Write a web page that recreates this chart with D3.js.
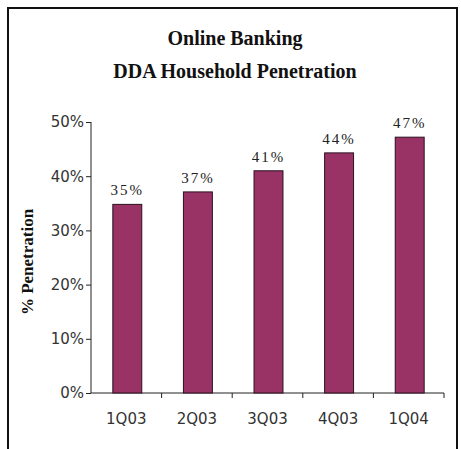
<!DOCTYPE html>
<html>
<head>
<meta charset="utf-8">
<script src="https://cdn.jsdelivr.net/npm/d3@7"></script>
<style>
  body { margin: 0; background: #fff; }
  svg { display: block; }
</style>
</head>
<body>
<svg width="461" height="449"></svg>
<script>
document.addEventListener("DOMContentLoaded", function(){
    // data
    const quarters = ["1Q03", "2Q03", "3Q03", "4Q03", "1Q04"];
    const penetration = [0.348, 0.371, 0.410, 0.443, 0.472];
    const valueLabels = ["35%", "37%", "41%", "44%", "47%"];
    const yTicks = [0, 0.1, 0.2, 0.3, 0.4, 0.5];
    const titleLines = ["Online Banking", "DDA Household Penetration"];

    let svg = d3.select("svg");
    let left = 91, right = 444, top = 122, bottom = 393;

    // frame (open at the bottom)
    svg.append("path")
        .attr("d", "M8,449 V8 H457 V449")
        .style("fill", "none")
        .style("stroke", "#111")
        .style("stroke-width", 2);

    svg.append("g").selectAll("text")
        .data(titleLines)
        .enter().append("text")
        .attr("x", 235)
        .attr("y", (d, i) => 45 + i * 33)
        .attr("text-anchor", "middle")
        .style("font-family", "'Liberation Serif', serif")
        .style("font-weight", "bold")
        .style("font-size", "20px")
        .style("fill", "#111")
        .text(d => d);

    let x = d3.scaleBand()
        .domain(quarters)
        .range([left, right])
        .paddingInner(0.59)
        .paddingOuter(0.295);

    let y = d3.scaleLinear()
        .domain([0, 0.5])
        .range([bottom, top]);

    // y axis
    let yAxis = svg.append("g")
        .attr("transform", "translate(" + left + ",0)")
        .call(d3.axisLeft(y).tickValues(yTicks).tickFormat(d3.format(".0%")).tickSize(5).tickPadding(2));
    yAxis.select(".domain").attr("d", "M0," + top + "V" + bottom).style("stroke", "#222");
    yAxis.selectAll(".tick line").style("stroke", "#222");
    yAxis.selectAll(".tick text")
        .style("font-family", "'DejaVu Sans', sans-serif")
        .style("font-size", "15px")
        .style("fill", "#333");

    // x axis: ticks sit on the category boundaries
    let xAxis = svg.append("g").attr("transform", "translate(0," + bottom + ")");
    xAxis.append("line")
        .attr("x1", left).attr("x2", right)
        .style("stroke", "#222");
    xAxis.selectAll("line.tk")
        .data(quarters)
        .enter().append("line")
        .attr("class", "tk")
        .attr("x1", d => x(d) + x.bandwidth() / 2 + x.step() / 2)
        .attr("x2", d => x(d) + x.bandwidth() / 2 + x.step() / 2)
        .attr("y1", 0).attr("y2", 5)
        .style("stroke", "#222");
    xAxis.selectAll("text")
        .data(quarters)
        .enter().append("text")
        .attr("x", d => x(d) + x.bandwidth() / 2)
        .attr("y", 31)
        .attr("text-anchor", "middle")
        .style("font-family", "'DejaVu Sans', sans-serif")
        .style("font-size", "15px")
        .style("fill", "#333")
        .text(d => d);

    let bars = quarters.map((q, i) => ({q: q, v: penetration[i], label: valueLabels[i]}));

    svg.append("g").selectAll("rect")
        .data(bars)
        .enter().append("rect")
        .attr("x", d => x(d.q) + 1)
        .attr("y", d => y(d.v))
        .attr("width", x.bandwidth())
        .attr("height", d => bottom - y(d.v))
        .style("fill", "#993366")
        .style("stroke", "#2a1020")
        .style("stroke-width", 1);

    svg.append("g").selectAll("text")
        .data(bars)
        .enter().append("text")
        .attr("x", d => x(d.q) + x.bandwidth() / 2 + 1)
        .attr("y", d => y(d.v) - 9)
        .attr("text-anchor", "middle")
        .style("font-family", "'Liberation Serif', serif")
        .style("font-size", "15px")
        .style("letter-spacing", "2px")
        .style("fill", "#222")
        .text(d => d.label);

    // y axis title
    svg.append("text")
        .attr("transform", "translate(33,262) rotate(-90)")
        .attr("text-anchor", "middle")
        .style("font-family", "'Liberation Serif', serif")
        .style("font-weight", "bold")
        .style("font-size", "17px")
        .style("fill", "#111")
        .text("% Penetration");
});
</script>
</body>
</html>
